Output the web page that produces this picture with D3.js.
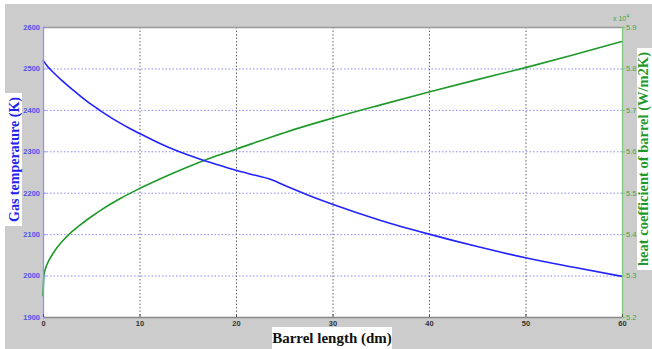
<!DOCTYPE html>
<html>
<head>
<meta charset="utf-8">
<script src="https://cdn.jsdelivr.net/npm/d3@7"></script>
<style>
  html, body { margin: 0; padding: 0; background: #ffffff; }
  svg { display: block; }
</style>
</head>
<body>
<svg id="chart" width="652" height="349"></svg>
<script>
// Gas temperature along the barrel (left axis, K)
const tempLength = [0, 0.5, 1, 2, 3, 4, 5, 6, 7, 8, 9, 10, 12, 14, 16, 18, 20, 22, 23.5, 25, 27.5, 30, 35, 40, 45, 50, 55, 60];
const tempValues = [2520, 2504, 2492, 2470, 2450, 2431, 2413, 2397, 2382, 2368, 2355, 2343, 2320, 2300, 2283, 2268, 2254, 2242, 2233, 2218, 2194, 2172, 2133, 2100, 2070, 2043, 2020, 1998];

// Heat coefficient of barrel (right axis, x 10^4 W/m2K)
const heatLength = [0, 0.1, 0.3, 0.6, 1, 1.5, 2, 3, 4, 5, 6, 8, 10, 12, 15, 18, 20, 25, 30, 35, 40, 45, 50, 55, 60];
const heatValues = [5.25, 5.30, 5.32, 5.336, 5.352, 5.369, 5.383, 5.406, 5.425, 5.442, 5.458, 5.486, 5.510, 5.532, 5.562, 5.589, 5.605, 5.645, 5.680, 5.712, 5.743, 5.773, 5.802, 5.833, 5.865];

const xTicks = [0, 10, 20, 30, 40, 50, 60];
const leftTicks = [1900, 2000, 2100, 2200, 2300, 2400, 2500, 2600];
const rightTicks = [5.2, 5.3, 5.4, 5.5, 5.6, 5.7, 5.8, 5.9];

const svg = d3.select("#chart");
const W = 652, H = 349;
const plot = { left: 43, right: 622, top: 27, bottom: 317 };

const x = d3.scaleLinear().domain([0, 60]).range([plot.left, plot.right]);
const yL = d3.scaleLinear().domain([1900, 2600]).range([plot.bottom, plot.top]);
const yR = d3.scaleLinear().domain([5.2, 5.9]).range([plot.bottom, plot.top]);

// figure background
svg.append("rect").attr("x", 5).attr("y", 4).attr("width", W - 5).attr("height", H - 4).attr("fill", "#cccccc");

// plot area
svg.append("rect")
  .attr("x", plot.left).attr("y", plot.top)
  .attr("width", plot.right - plot.left).attr("height", plot.bottom - plot.top)
  .attr("fill", "#ffffff");

// grid
const grid = svg.append("g");
grid.selectAll("line.h").data(leftTicks.slice(1, -1)).join("line")
  .attr("x1", plot.left).attr("x2", plot.right)
  .attr("y1", d => yL(d) + 0.5).attr("y2", d => yL(d) + 0.5)
  .attr("stroke", "#8888ff").attr("stroke-width", 1).attr("stroke-dasharray", "1.5,2");
grid.selectAll("line.v").data(xTicks.slice(1, -1)).join("line")
  .attr("y1", plot.top).attr("y2", plot.bottom)
  .attr("x1", d => x(d) + 0.5).attr("x2", d => x(d) + 0.5)
  .attr("stroke", "#666666").attr("stroke-width", 1).attr("stroke-dasharray", "1.5,2");

// box top and bottom
svg.append("line").attr("x1", plot.left).attr("x2", plot.right)
  .attr("y1", plot.top + 0.5).attr("y2", plot.top + 0.5).attr("stroke", "#999999").attr("stroke-width", 1.5);
svg.append("line").attr("x1", plot.left).attr("x2", plot.right)
  .attr("y1", plot.bottom + 0.5).attr("y2", plot.bottom + 0.5).attr("stroke", "#888888").attr("stroke-width", 1.5);

// series
const lineT = d3.line().x((d, i) => x(tempLength[i])).y(d => yL(d)).curve(d3.curveMonotoneX);
const lineH = d3.line().x((d, i) => x(heatLength[i])).y(d => yR(d)).curve(d3.curveMonotoneX);

svg.append("path").datum(heatValues).attr("d", lineH)
  .attr("fill", "none").attr("stroke", "#1f9a2a").attr("stroke-width", 1.6);
svg.append("path").datum(tempValues).attr("d", lineT)
  .attr("fill", "none").attr("stroke", "#2222ff").attr("stroke-width", 1.6);

// axes
const tickFont = "Arial, 'Liberation Sans', sans-serif";

const axL = svg.append("g").attr("transform", `translate(${plot.left},0)`)
  .call(d3.axisLeft(yL).tickValues(leftTicks).tickSize(-3).tickPadding(3).tickFormat(d3.format("d")));
axL.select(".domain").attr("stroke", "#9090ff").attr("stroke-width", 1.3);
axL.selectAll(".tick line").attr("stroke", "#9090ff");
axL.selectAll(".tick text").attr("fill", "#5050ee").attr("font-size", 7.5).attr("font-weight", "bold")
  .attr("font-family", tickFont);

const axR = svg.append("g").attr("transform", `translate(${plot.right},0)`)
  .call(d3.axisRight(yR).tickValues(rightTicks).tickSize(3).tickPadding(1).tickFormat(d3.format(".1f")));
axR.select(".domain").attr("stroke", "#80c880").attr("stroke-width", 1.3);
axR.selectAll(".tick line").attr("stroke", "#80c880");
axR.selectAll(".tick text").attr("fill", "#3aa84a").attr("font-size", 7.5)
  .attr("font-family", tickFont);

const axB = svg.append("g").attr("transform", `translate(0,${plot.bottom})`)
  .call(d3.axisBottom(x).tickValues(xTicks).tickSize(-3).tickPadding(4).tickFormat(d3.format("d")));
axB.select(".domain").remove();
axB.selectAll(".tick line").attr("stroke", "#555555");
axB.selectAll(".tick text").attr("fill", "#333333").attr("font-size", 7.5).attr("font-weight", "bold")
  .attr("font-family", tickFont);

// exponent marker on right axis
const exp = svg.append("text").attr("x", plot.right - 9).attr("y", plot.top - 6)
  .attr("fill", "#3aa84a").attr("font-size", 7).attr("font-family", tickFont);
exp.append("tspan").text("x 10");
exp.append("tspan").attr("dy", -3).attr("font-size", 5.5).text("4");

// axis titles on white panels
const serif = "'Liberation Serif', 'Times New Roman', serif";

svg.append("rect").attr("x", 5).attr("y", 93).attr("width", 17).attr("height", 133).attr("fill", "#ffffff");
svg.append("text")
  .attr("transform", `translate(19,${(93 + 226) / 2}) rotate(-90)`)
  .attr("text-anchor", "middle").attr("fill", "#2222ee")
  .attr("font-family", serif).attr("font-weight", "bold").attr("font-size", 14)
  .text("Gas temperature (K)");

svg.append("rect").attr("x", 637).attr("y", 48).attr("width", 15).attr("height", 222).attr("fill", "#ffffff");
svg.append("text")
  .attr("transform", `translate(648,${(48 + 270) / 2}) rotate(-90)`)
  .attr("text-anchor", "middle").attr("fill", "#1f9a2a")
  .attr("font-family", serif).attr("font-weight", "bold").attr("font-size", 14.5)
  .text("heat coefficient of barrel (W/m2K)");

svg.append("rect").attr("x", 272).attr("y", 327).attr("width", 120).attr("height", 22).attr("fill", "#ffffff");
svg.append("text")
  .attr("x", 332).attr("y", 343)
  .attr("text-anchor", "middle").attr("fill", "#111111")
  .attr("font-family", serif).attr("font-weight", "bold").attr("font-size", 15)
  .text("Barrel length (dm)");
</script>
</body>
</html>
